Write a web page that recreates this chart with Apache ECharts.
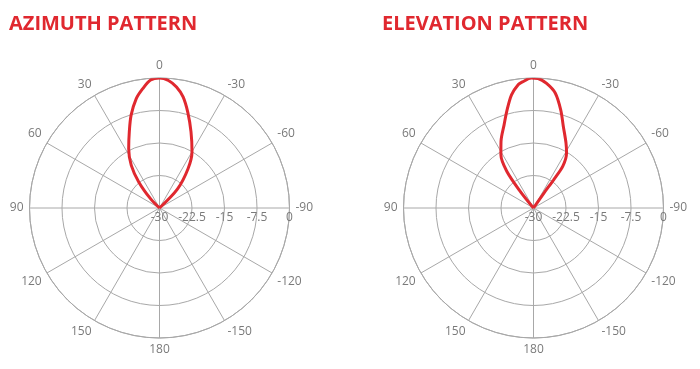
<!DOCTYPE html>
<html><head><meta charset="utf-8">
<script src="https://cdn.jsdelivr.net/npm/echarts@6/dist/echarts.min.js"></script>
<style>html,body{margin:0;padding:0;background:#fff}#c{width:700px;height:369px}</style>
</head><body><div id="c"></div>
<script>
const titles = ['AZIMUTH PATTERN', 'ELEVATION PATTERN'];
// angle ticks in axis units (-90..240); shown labels
const angleTickValues = [-90, -60, -30, 0, 30, 60, 90, 120, 150, 180, 210, 240];
const angleTickLabels = ['-90', '-60', '-30', '0', '30', '60', '90', '120', '150', '180', '-150', '-120'];
const radiusTicks = [-30, -22.5, -15, -7.5, 0];

// Azimuth pattern: angle (deg, + = left) and gain (dB)
const azimuthAngles = [-48, -43.5, -36, -30, -22.5, -16.5, -12, -8, -4, 0, 4, 8, 12, 17, 21.5, 27.5, 33.5, 38.5, 44, 47];
const azimuthGain   = [-30, -24, -18.8, -15, -11, -7, -3.8, -1.8, -0.5, 0, -0.4, -2.2, -4.2, -7.6, -11, -14.6, -18.2, -22.3, -27, -30];

// Elevation pattern
const elevationAngles = [-38, -35, -35.5, -35, -31, -26.5, -20, -15.5, -10.7, -6, -2, 1, 5, 7, 11, 15.4, 19.4, 26, 31.5, 36, 38.5, 40];
const elevationGain   = [-30, -25.8, -22, -18.2, -15.2, -13.2, -9.9, -6.5, -3, -1.1, -0.1, 0, -0.8, -1.3, -3.4, -6.8, -9.6, -12.9, -15.6, -19.5, -25, -30];

const RED = '#e0282f';
const GRID = '#a8a8a8';
const LABEL = '#7a7a7a';
const FONT = '"Open Sans", sans-serif';

function angleLabel(v) {
  const i = angleTickValues.indexOf(v);
  return i >= 0 ? angleTickLabels[i] : '';
}

function makeAngleAxis(idx) {
  return {
    polarIndex: idx, type: 'value', min: -90, max: 270, interval: 30,
    startAngle: 0, clockwise: false,
    axisLine: { show: true, lineStyle: { color: GRID, width: 1 } },
    axisTick: { show: false },
    splitLine: { show: true, lineStyle: { color: GRID, width: 1 } },
    axisLabel: { color: LABEL, fontSize: 12, fontFamily: FONT, margin: 6, formatter: angleLabel }
  };
}
function makeRadiusAxis(idx) {
  return {
    polarIndex: idx, type: 'value', min: -30, max: 0, interval: 7.5,
    axisLine: { show: false }, axisTick: { show: false },
    splitLine: { show: true, lineStyle: { color: GRID, width: 1 } },
    axisLabel: { color: LABEL, fontSize: 12, fontFamily: FONT, margin: -16, formatter: v => String(v) }
  };
}
function pairs(angles, gains) { return angles.map((a, i) => [gains[i], a]); }

const chart = echarts.init(document.getElementById('c'), null, { renderer: 'canvas' });
chart.setOption({
  backgroundColor: '#fff',
  animation: false,
  title: [
    { text: titles[0], left: 9, top: 14, padding: 0, textStyle: { color: RED, fontSize: 20, fontWeight: 'bold', fontFamily: FONT } },
    { text: titles[1], left: 382, top: 14, padding: 0, textStyle: { color: RED, fontSize: 20, fontWeight: 'bold', fontFamily: FONT } }
  ],
  polar: [
    { center: [159.5, 208], radius: 130 },
    { center: [533.5, 208], radius: 130 }
  ],
  angleAxis: [makeAngleAxis(0), makeAngleAxis(1)],
  radiusAxis: [makeRadiusAxis(0), makeRadiusAxis(1)],
  series: [
    { type: 'line', coordinateSystem: 'polar', polarIndex: 0, data: pairs(azimuthAngles, azimuthGain),
      symbol: 'none', smooth: 0.3, lineStyle: { color: RED, width: 3 }, z: 5 },
    { type: 'line', coordinateSystem: 'polar', polarIndex: 1, data: pairs(elevationAngles, elevationGain),
      symbol: 'none', smooth: 0.3, lineStyle: { color: RED, width: 3 }, z: 5 }
  ]
});
</script></body></html>
